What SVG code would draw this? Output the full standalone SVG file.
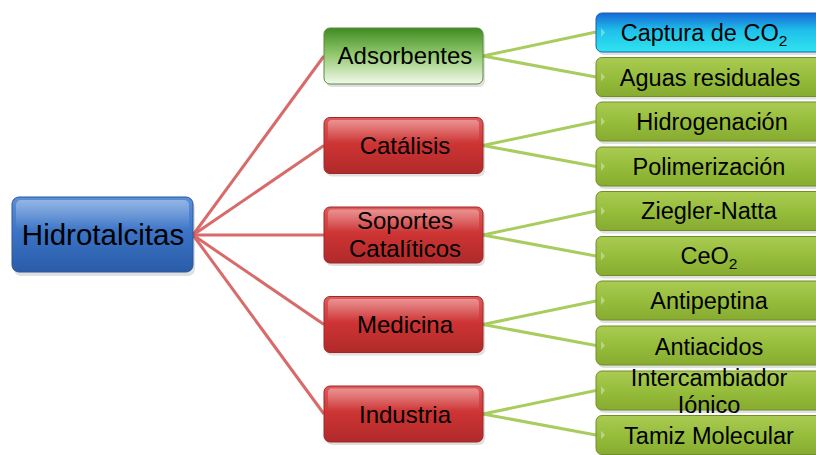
<svg xmlns="http://www.w3.org/2000/svg" width="816" height="455" viewBox="0 0 816 455">
<style>
text{font-family:"Liberation Sans",Arial,sans-serif;fill:#000;text-anchor:middle}
.root{font-size:29.5px}
.mid{font-size:24px}
.leaf{font-size:23.5px}
.c1{stroke:#d96a6a;stroke-width:3;fill:none}
.c2{stroke:#a9cc5f;stroke-width:3;fill:none}
.sh{fill:#000;opacity:0.12}
.tri{fill:#fff;opacity:0.35}
</style>
<defs>
<linearGradient id="gBlue" x1="0" y1="0" x2="0" y2="1"><stop offset="0" stop-color="#5b8fd8"/><stop offset="0.5" stop-color="#3a72c4"/><stop offset="1" stop-color="#2a5ca8"/></linearGradient>
<linearGradient id="gRed" x1="0" y1="0" x2="0" y2="1"><stop offset="0" stop-color="#e05a5a"/><stop offset="0.5" stop-color="#cc3333"/><stop offset="1" stop-color="#b02a2a"/></linearGradient>
<linearGradient id="gAds" x1="0" y1="0" x2="0" y2="1"><stop offset="0" stop-color="#3f8a22"/><stop offset="0.45" stop-color="#8ec66a"/><stop offset="1" stop-color="#f2f9ea"/></linearGradient>
<linearGradient id="gLeaf" x1="0" y1="0" x2="0" y2="1"><stop offset="0" stop-color="#a9cb52"/><stop offset="0.5" stop-color="#97bd3c"/><stop offset="1" stop-color="#86ab30"/></linearGradient>
<linearGradient id="gCyan" x1="0" y1="0" x2="0" y2="1"><stop offset="0" stop-color="#1769d6"/><stop offset="0.45" stop-color="#1fc0ea"/><stop offset="1" stop-color="#30e4ee"/></linearGradient>
<linearGradient id="gHi" x1="0" y1="0" x2="0" y2="1"><stop offset="0" stop-color="#fff" stop-opacity="0.35"/><stop offset="1" stop-color="#fff" stop-opacity="0"/></linearGradient>
</defs>

<g id="connectors">
<line class="c1" x1="193" y1="235" x2="324" y2="56"/>
<line class="c1" x1="193" y1="235" x2="324" y2="145.5"/>
<line class="c1" x1="193" y1="235" x2="324" y2="235"/>
<line class="c1" x1="193" y1="235" x2="324" y2="324.5"/>
<line class="c1" x1="193" y1="235" x2="324" y2="414"/>
<line class="c2" x1="483" y1="56" x2="596" y2="32"/>
<line class="c2" x1="483" y1="56" x2="596" y2="77"/>
<line class="c2" x1="483" y1="145.5" x2="596" y2="121.5"/>
<line class="c2" x1="483" y1="145.5" x2="596" y2="166.5"/>
<line class="c2" x1="483" y1="235" x2="596" y2="211"/>
<line class="c2" x1="483" y1="235" x2="596" y2="256"/>
<line class="c2" x1="483" y1="324.5" x2="596" y2="301"/>
<line class="c2" x1="483" y1="324.5" x2="596" y2="345.5"/>
<line class="c2" x1="483" y1="414" x2="596" y2="390.5"/>
<line class="c2" x1="483" y1="414" x2="596" y2="435"/>
</g>

<g id="root">
<rect class="sh" x="14" y="201" width="181" height="75" rx="7"/>
<rect x="12" y="197" width="181" height="75" rx="7" fill="url(#gBlue)" stroke="#2a569c" stroke-width="1"/>
<rect x="16" y="200" width="173" height="30" rx="5" fill="url(#gHi)"/>
<text class="root" x="103" y="245">Hidrotalcitas</text>
</g>

<g id="adsorbentes">
<rect class="sh" x="326" y="31" width="159" height="56" rx="6"/>
<rect x="324" y="28" width="159" height="56" rx="6" fill="url(#gAds)" stroke="#5a8a3a" stroke-width="1"/>
<text class="mid" x="405" y="64">Adsorbentes</text>
</g>
<g id="catalisis">
<rect class="sh" x="326" y="120.5" width="159" height="56" rx="6"/>
<rect x="324" y="117.5" width="159" height="56" rx="6" fill="url(#gRed)" stroke="#9c2828" stroke-width="1"/>
<rect x="328" y="120" width="151" height="22" rx="4" fill="url(#gHi)"/>
<text class="mid" x="405" y="154">Catálisis</text>
</g>
<g id="soportes">
<rect class="sh" x="326" y="210" width="159" height="56" rx="6"/>
<rect x="324" y="207" width="159" height="56" rx="6" fill="url(#gRed)" stroke="#9c2828" stroke-width="1"/>
<rect x="328" y="209.5" width="151" height="22" rx="4" fill="url(#gHi)"/>
<text class="mid" x="405" y="229">Soportes</text>
<text class="mid" x="405" y="257">Catalíticos</text>
</g>
<g id="medicina">
<rect class="sh" x="326" y="299.5" width="159" height="56" rx="6"/>
<rect x="324" y="296.5" width="159" height="56" rx="6" fill="url(#gRed)" stroke="#9c2828" stroke-width="1"/>
<rect x="328" y="299" width="151" height="22" rx="4" fill="url(#gHi)"/>
<text class="mid" x="405" y="333">Medicina</text>
</g>
<g id="industria">
<rect class="sh" x="326" y="389" width="159" height="56" rx="6"/>
<rect x="324" y="386" width="159" height="56" rx="6" fill="url(#gRed)" stroke="#9c2828" stroke-width="1"/>
<rect x="328" y="388.5" width="151" height="22" rx="4" fill="url(#gHi)"/>
<text class="mid" x="405" y="422.5">Industria</text>
</g>

<g id="captura">
<rect class="sh" x="598" y="16" width="230" height="39" rx="6"/>
<rect x="596" y="13" width="230" height="39" rx="6" fill="url(#gCyan)" stroke="#1a5fb0" stroke-width="1"/>
<path class="tri" d="M601 28 L605 32.5 L601 37 Z"/>
<text class="leaf" x="704" y="41">Captura de CO<tspan font-size="15.5" dy="5">2</tspan></text>
</g>
<g id="aguas">
<rect class="sh" x="598" y="60.5" width="230" height="39" rx="6"/>
<rect x="596" y="57.5" width="230" height="39" rx="6" fill="url(#gLeaf)" stroke="#6f8f28" stroke-width="1"/>
<path class="tri" d="M601 72.5 L605 77 L601 81.5 Z"/>
<text class="leaf" x="710" y="85.5">Aguas residuales</text>
</g>
<g id="hidrogenacion">
<rect class="sh" x="598" y="105" width="230" height="39" rx="6"/>
<rect x="596" y="102" width="230" height="39" rx="6" fill="url(#gLeaf)" stroke="#6f8f28" stroke-width="1"/>
<path class="tri" d="M601 117 L605 121.5 L601 126 Z"/>
<text class="leaf" x="712" y="129.5">Hidrogenación</text>
</g>
<g id="polimerizacion">
<rect class="sh" x="598" y="150" width="230" height="39" rx="6"/>
<rect x="596" y="147" width="230" height="39" rx="6" fill="url(#gLeaf)" stroke="#6f8f28" stroke-width="1"/>
<path class="tri" d="M601 162 L605 166.5 L601 171 Z"/>
<text class="leaf" x="709" y="174.5">Polimerización</text>
</g>
<g id="ziegler">
<rect class="sh" x="598" y="194.5" width="230" height="39" rx="6"/>
<rect x="596" y="191.5" width="230" height="39" rx="6" fill="url(#gLeaf)" stroke="#6f8f28" stroke-width="1"/>
<path class="tri" d="M601 206.5 L605 211 L601 215.5 Z"/>
<text class="leaf" x="709" y="219">Ziegler-Natta</text>
</g>
<g id="ceo2">
<rect class="sh" x="598" y="239.5" width="230" height="39" rx="6"/>
<rect x="596" y="236.5" width="230" height="39" rx="6" fill="url(#gLeaf)" stroke="#6f8f28" stroke-width="1"/>
<path class="tri" d="M601 251.5 L605 256 L601 260.5 Z"/>
<text class="leaf" x="709" y="264">CeO<tspan font-size="15.5" dy="5">2</tspan></text>
</g>
<g id="antipeptina">
<rect class="sh" x="598" y="284" width="230" height="39" rx="6"/>
<rect x="596" y="281" width="230" height="39" rx="6" fill="url(#gLeaf)" stroke="#6f8f28" stroke-width="1"/>
<path class="tri" d="M601 296 L605 300.5 L601 305 Z"/>
<text class="leaf" x="709" y="308.5">Antipeptina</text>
</g>
<g id="antiacidos">
<rect class="sh" x="598" y="329" width="230" height="39" rx="6"/>
<rect x="596" y="326" width="230" height="39" rx="6" fill="url(#gLeaf)" stroke="#6f8f28" stroke-width="1"/>
<path class="tri" d="M601 341 L605 345.5 L601 350 Z"/>
<text class="leaf" x="709" y="354.5">Antiacidos</text>
</g>
<g id="intercambiador">
<rect class="sh" x="598" y="374" width="230" height="39" rx="6"/>
<rect x="596" y="371" width="230" height="39" rx="6" fill="url(#gLeaf)" stroke="#6f8f28" stroke-width="1"/>
<path class="tri" d="M601 386 L605 390.5 L601 395 Z"/>
<text class="leaf" x="709" y="386">Intercambiador</text>
<text class="leaf" x="709" y="413">Iónico</text>
</g>
<g id="tamiz">
<rect class="sh" x="598" y="418.5" width="230" height="39" rx="6"/>
<rect x="596" y="415.5" width="230" height="39" rx="6" fill="url(#gLeaf)" stroke="#6f8f28" stroke-width="1"/>
<path class="tri" d="M601 430.5 L605 435 L601 439.5 Z"/>
<text class="leaf" x="709" y="443.5">Tamiz Molecular</text>
</g>
</svg>
